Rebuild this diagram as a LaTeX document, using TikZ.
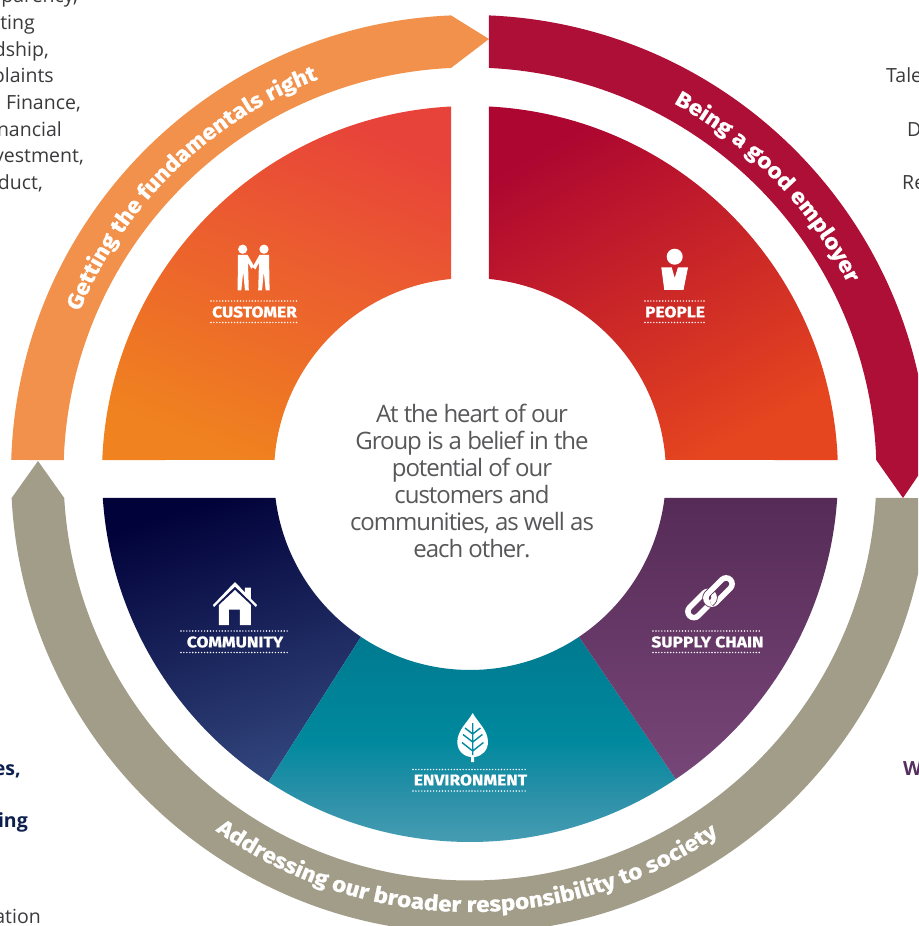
\documentclass[tikz,border=0pt]{standalone}
\usepackage{fontspec}
\usetikzlibrary{decorations.text}
\setmainfont{Open Sans}
\newfontfamily\heavy{Fira Sans}[BoldFeatures={FakeBold=1,FakeStretch=1.12}]
\newfontfamily\ctrfont{Open Sans}[LetterSpace=-4.4]
\newcommand{\bandfont}{\heavy\bfseries\fontsize{21.6}{24}\selectfont}
\definecolor{bandor}{HTML}{F2914B}
\definecolor{bandred}{HTML}{AE0F36}
\definecolor{bandgr}{HTML}{A29D89}
\definecolor{ctrtext}{HTML}{58585A}
\definecolor{sidetext}{HTML}{3A3A3C}
\definecolor{sidenavy}{HTML}{0C1F4D}
\definecolor{sidepurple}{HTML}{55305E}
\definecolor{cusa}{HTML}{E8433A}
\definecolor{cusb}{HTML}{F0821F}
\definecolor{pepa}{HTML}{AD0631}
\definecolor{pepb}{HTML}{E6461F}
\definecolor{coma}{HTML}{02023A}
\definecolor{comb}{HTML}{31457C}
\definecolor{enva}{HTML}{007A90}
\definecolor{envm}{HTML}{00899E}
\definecolor{envc}{HTML}{2A90A8}
\definecolor{envb}{HTML}{52A2B6}
\definecolor{supa}{HTML}{562B57}
\definecolor{supb}{HTML}{774678}
\definecolor{leafvein}{HTML}{008A9F}
\definecolor{chaingap}{HTML}{61335F}
\pgfdeclareverticalshading{envshade}{100bp}{color(0bp)=(envb); color(25bp)=(envb); color(40bp)=(envc); color(52bp)=(envm); color(75bp)=(enva); color(100bp)=(enva)}
\tikzset{
  px/.style={shift={(-470,474)},x=1pt,y=-1pt},
  seclabel/.style={text=white,inner sep=0pt,font=\heavy\bfseries\fontsize{15.5}{17}\selectfont},
  dots/.style={white,line width=1.6pt,line cap=round,dash pattern=on 0pt off 2.95pt},
  sidefont/.style={inner sep=0pt,font=\fontsize{19.5}{22}\selectfont,text=sidetext},
  bandtext/.style={decorate,decoration={text along path,text align=center,text color=white,
     text={|\bandfont|#1}}},
  linkline/.style={white,line width=5.5pt,rounded corners=5.9pt},
  linkcase/.style={chaingap,line width=7.2pt,rounded corners=5.9pt},
}
\begin{document}
\begin{tikzpicture}[x=1pt,y=1pt]
\useasboundingbox (-470,-452) rectangle (448,474);
\clip (-470,-452) rectangle (448,474);
\fill[white] (-470,-452) rectangle (448,474);

% outer bands
\fill[bandor] (178.25:459) arc[start angle=178.25,end angle=92.37,radius=459] -- (19,435)
  -- (92.68:406.5) arc[start angle=92.68,end angle=178.03,radius=406.5] -- cycle;
\fill[bandred] (87.63:459) arc[start angle=87.63,end angle=1.75,radius=459] -- (433,-24)
  -- (1.97:406.5) arc[start angle=1.97,end angle=87.32,radius=406.5] -- cycle;
\fill[bandgr] (-432,13) -- (183:459) arc[start angle=183,end angle=357,radius=459]
  -- (356.62:406.5) arc[start angle=356.62,end angle=183.38,radius=406.5] -- cycle;

% sectors
\shade[top color=cusa,bottom color=cusb,shading angle=-22]
  (92.96:368) arc[start angle=92.96,end angle=177.82,radius=368]
  -- (175.9:196) arc[start angle=175.9,end angle=95.56,radius=196] -- cycle;
\shade[top color=pepa,bottom color=pepb,shading angle=28]
  (87.04:368) arc[start angle=87.04,end angle=2.18,radius=368]
  -- (4.1:196) arc[start angle=4.1,end angle=84.44,radius=196] -- cycle;
\shade[top color=coma,bottom color=comb,shading angle=18]
  (183.74:368) arc[start angle=183.74,end angle=236.8,radius=368]
  -- (236.2:196) arc[start angle=236.2,end angle=187.03,radius=196] -- cycle;
\shade[shading=envshade]
  (236.8:368) arc[start angle=236.8,end angle=304,radius=368]
  -- (303.8:196) arc[start angle=303.8,end angle=236.2,radius=196] -- cycle;
\shade[top color=supa,bottom color=supb]
  (304:368) arc[start angle=304,end angle=356.26,radius=368]
  -- (352.97:196) arc[start angle=352.97,end angle=303.8,radius=196] -- cycle;

% band captions
\path[bandtext={Getting the fundamentals right}]
  (165:423) arc[start angle=165,end angle=103.5,radius=423];
\path[bandtext={Being a good employer}]
  (70:423) arc[start angle=70,end angle=18,radius=423];
\path[bandtext={Addressing our broader responsibility to society}]
  (225:438) arc[start angle=225,end angle=314,radius=438];

\begin{scope}[px]
% centre text
\node[name=centre,align=center,text=ctrtext,inner sep=0pt,
  font=\ctrfont\fontsize{24}{27}\selectfont] at (472,481)
  {At the heart of our\\Group is a belief in the\\potential of our\\customers and\\communities, as well as\\each other.};

% sector labels
\node[seclabel,name=lcustomer] at (254.5,312) {CUSTOMER};
\node[seclabel,name=lpeople] at (675,312) {PEOPLE};
\node[seclabel,name=lcommunity] at (235,642) {COMMUNITY};
\node[seclabel,name=lsupply] at (707.5,642) {SUPPLY CHAIN};
\node[seclabel,name=lenv] at (470.5,780) {ENVIRONMENT};
\foreach \xa/\xb/\yc in {211/297/301,211/297/322.5,645/705/301,645/705/322.5,181/289/631,181/289/652.5,653/760/631,653/760/652.5,413/528/769.5,413/528/791}
  \draw[dots] (\xa,\yc) -- (\xb,\yc);

% customer icon
\fill[white] (242.7,249.2) circle[radius=4.6] (264,249.2) circle[radius=4.6];
\fill[white] (238,255) -- (247.6,255) -- (254,266) -- (251.3,268.8) -- (248,262.5) -- (248.8,290.5) -- (245,290.5) -- (243.2,272) -- (241.3,290.5) -- (237.6,290.5) -- cycle;
\fill[white] (269,255) -- (259.4,255) -- (252.6,267) -- (255.5,269.5) -- (259,262.5) -- (258.2,290.5) -- (262,290.5) -- (263.8,272) -- (265.7,290.5) -- (269.6,290.5) -- cycle;

% people icon
\fill[white] (674.7,256.7) circle[radius=8];
\fill[white] (661.3,267.3) -- (671.7,267.3) -- (674.7,278) -- (678,267.3) -- (688,267.3) -- (683.5,290) -- (664.3,290) -- cycle;

% community icon
\fill[white] (235,582) -- (257,605) -- (256,607) -- (235,586.6) -- (214,607) -- (213,605) -- cycle;
\fill[white] (245,587.5) -- (251,587.5) -- (251,600) -- (245,594) -- cycle;
\fill[white] (235,590) -- (219,605) -- (219,625) -- (229,625) -- (229,609.5) -- (240,609.5) -- (240,625) -- (251,625) -- (251,605) -- cycle;

% environment icon
\fill[white] (472.7,713) .. controls (468,722) and (457.3,730) .. (457.3,742)
  .. controls (457.3,750) and (463,756.5) .. (471.2,757) -- (471.2,762) -- (474.2,762) -- (474.2,757)
  .. controls (482,756.5) and (488,750) .. (488,742) .. controls (488,730) and (477.4,722) .. (472.7,713) -- cycle;
\draw[leafvein,line width=1.4pt] (472.7,723) -- (472.7,755)
  (472.7,734) -- (465,728) (472.7,734) -- (480.4,728)
  (472.7,742) -- (463,734.5) (472.7,742) -- (482.4,734.5)
  (472.7,751) -- (462,742.5) (472.7,751) -- (483.4,742.5);

% supply chain icon: lower link, then upper link over it, then lower link again over one crossing
\draw[linkline,rotate around={45:(701,604.5)}] (685,598.5) rectangle (717,610.5);
\draw[linkcase,rotate around={45:(719,591)}] (703,585) rectangle (735,597);
\draw[linkline,rotate around={45:(719,591)}] (703,585) rectangle (735,597);
\begin{scope}
\clip (718,600) circle[radius=8];
\draw[linkcase,rotate around={45:(701,604.5)}] (685,598.5) rectangle (717,610.5);
\draw[linkline,rotate around={45:(701,604.5)}] (685,598.5) rectangle (717,610.5);
\end{scope}

% side fragments
\node[sidefont,anchor=base east,name=s1] at (78,3) {parency,};
\node[sidefont,anchor=base east,name=s2] at (35,30) {ting};
\node[sidefont,anchor=base east,name=s3] at (49,57) {dship,};
\node[sidefont,anchor=base east,name=s4] at (54,83) {plaints};
\node[sidefont,anchor=base east,name=s5] at (81,110) {Finance,};
\node[sidefont,anchor=base east,name=s6] at (62,137) {nancial};
\node[sidefont,anchor=base east,name=s7] at (84,163) {vestment,};
\node[sidefont,anchor=base east,name=s8] at (43,190) {duct,};
\node[sidefont,anchor=base west,name=s9] at (886,83) {Tale};
\node[sidefont,anchor=base west,name=s10] at (907,137) {D};
\node[sidefont,anchor=base west,name=s11] at (902,190) {Re};
\node[sidefont,anchor=base east,text=sidenavy,name=s12] at (21,775) {\bfseries es,};
\node[sidefont,anchor=base east,text=sidenavy,name=s13] at (28,827) {\bfseries ing};
\node[sidefont,anchor=base east,name=s14] at (41,923) {ation};
\node[sidefont,anchor=base west,text=sidepurple,name=s15] at (903,775) {\bfseries W};
\end{scope}
\end{tikzpicture}
\end{document}
